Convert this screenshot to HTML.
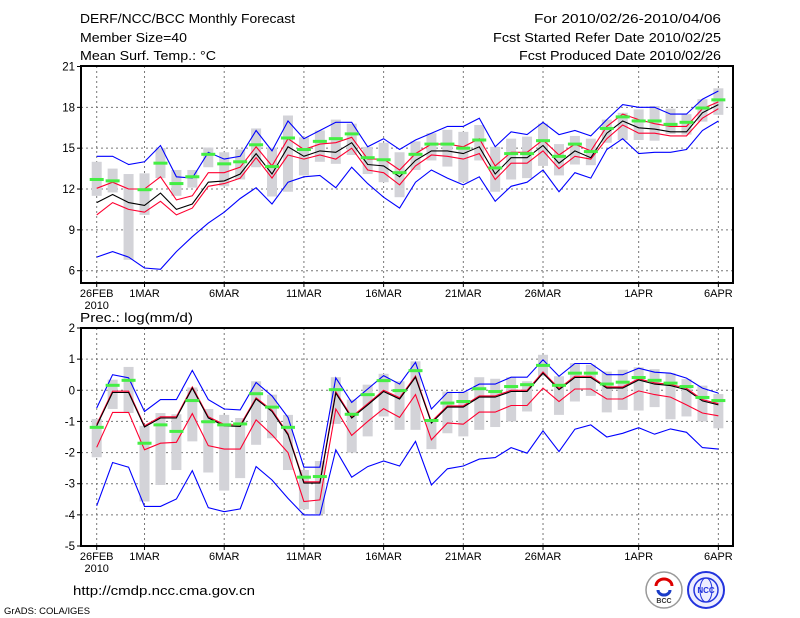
<!DOCTYPE html>
<html><head><meta charset="utf-8"><style>
html,body{margin:0;padding:0;background:#fff;}
svg{display:block;font-family:"Liberation Sans",sans-serif;}
</style></head><body>
<svg id="chart" width="800" height="618" viewBox="0 0 800 618" xmlns="http://www.w3.org/2000/svg">
<rect width="800" height="618" fill="#fff"/>
<g font-size="12.5" fill="#000">
<text x="80" y="23" textLength="215" lengthAdjust="spacingAndGlyphs">DERF/NCC/BCC Monthly Forecast</text>
<text x="80" y="42" textLength="107" lengthAdjust="spacingAndGlyphs">Member Size=40</text>
<text x="80" y="60" textLength="136" lengthAdjust="spacingAndGlyphs">Mean Surf. Temp.: °C</text>
<text x="534" y="23" textLength="187" lengthAdjust="spacingAndGlyphs">For 2010/02/26-2010/04/06</text>
<text x="493" y="42" textLength="228" lengthAdjust="spacingAndGlyphs">Fcst Started Refer Date 2010/02/25</text>
<text x="519" y="60" textLength="202" lengthAdjust="spacingAndGlyphs">Fcst Produced Date 2010/02/26</text>
<text x="80" y="322" textLength="113" lengthAdjust="spacingAndGlyphs">Prec.: log(mm/d)</text>
<text x="73" y="595" textLength="182" lengthAdjust="spacingAndGlyphs">http://cmdp.ncc.cma.gov.cn</text>
<text x="4" y="614" font-size="9" textLength="86" lengthAdjust="spacingAndGlyphs">GrADS: COLA/IGES</text>
</g>
<g>
<circle cx="664" cy="590" r="18" fill="#fff" stroke="#999" stroke-width="1.5"/>
<path d="M656 586 a8 7 0 1 1 16 0" fill="none" stroke="#d00" stroke-width="3"/>
<path d="M658 590 a6 5 0 0 0 12 0" fill="none" stroke="#1a3cc8" stroke-width="3"/>
<text x="664" y="603" font-size="7" text-anchor="middle" font-weight="bold" fill="#333">BCC</text>
</g>
<g>
<circle cx="706" cy="590" r="18" fill="#eef" stroke="#2233dd" stroke-width="2"/>
<circle cx="706" cy="590" r="12" fill="none" stroke="#2233dd" stroke-width="1.5"/>
<ellipse cx="706" cy="590" rx="6" ry="12" fill="none" stroke="#2233dd" stroke-width="1"/>
<text x="706" y="593" font-size="8" text-anchor="middle" font-weight="bold" fill="#2233dd">NCC</text>
</g>
<g id="plots"></g>
</svg>
<script>
// ---- data: temperature panel ----
const days = ["26FEB","27FEB","28FEB","1MAR","2MAR","3MAR","4MAR","5MAR","6MAR","7MAR","8MAR","9MAR","10MAR","11MAR","12MAR","13MAR","14MAR","15MAR","16MAR","17MAR","18MAR","19MAR","20MAR","21MAR","22MAR","23MAR","24MAR","25MAR","26MAR","27MAR","28MAR","29MAR","30MAR","31MAR","1APR","2APR","3APR","4APR","5APR","6APR"];
const xLabels = ["26FEB","1MAR","6MAR","11MAR","16MAR","21MAR","26MAR","1APR","6APR"];
const tTicks = [6,9,12,15,18,21];
const pTicks = [-5,-4,-3,-2,-1,0,1,2];
const tMax = [14.4,14.4,13.8,14.0,15.2,12.9,12.8,14.7,14.2,14.4,16.3,14.8,17.0,15.7,16.3,16.9,16.9,15.1,15.7,14.9,15.6,16.1,16.6,16.6,17.2,15.1,16.2,16.0,16.9,16.0,16.3,15.9,17.1,18.2,18.0,18.0,17.5,17.5,18.6,19.2];
const tMin = [7.0,7.4,7.0,6.2,6.1,7.4,8.5,9.5,10.3,11.3,12.1,10.9,12.5,12.9,13.0,12.1,13.6,12.4,11.4,10.6,12.5,13.4,12.8,12.3,12.9,11.1,12.2,12.5,13.4,11.8,13.2,12.8,14.9,15.7,14.6,14.7,14.7,14.9,16.3,17.0];
const tMean = [11.0,11.6,11.0,10.8,11.7,10.5,10.9,12.5,12.6,13.1,14.6,13.1,15.1,14.4,14.8,14.7,15.4,13.8,13.7,12.9,14.1,14.8,14.8,14.6,15.1,13.1,14.3,14.3,15.2,13.9,14.8,14.3,16.1,17.0,16.5,16.4,16.2,16.2,17.6,18.2];
const tUp = [12.05,12.5,12.0,12.0,12.9,11.2,11.5,13.2,13.2,13.6,15.1,13.7,15.7,14.9,15.3,15.4,15.8,14.2,14.2,13.4,14.6,15.3,15.3,15.1,15.7,13.7,14.7,14.7,15.6,14.5,15.3,14.8,16.6,17.5,17.1,16.8,16.6,16.6,17.9,18.4];
const tLow = [10.1,11.0,10.5,10.3,11.1,10.1,10.6,12.2,12.4,12.8,14.3,12.8,14.5,14.2,14.5,14.2,15.0,13.4,13.2,12.3,13.7,14.5,14.4,14.2,14.6,12.7,13.9,13.9,14.8,13.5,14.4,14.2,15.7,16.7,16.1,16.1,15.9,15.9,17.2,17.9];
const tObs = [12.7,12.6,null,11.95,13.9,12.4,12.9,14.55,13.85,14.0,15.25,13.65,15.75,14.9,15.5,15.7,16.05,14.3,14.15,13.2,14.55,15.3,15.3,15.0,15.6,13.55,14.6,14.6,15.55,14.4,15.3,14.75,16.45,17.3,17.0,17.0,16.75,16.9,17.95,18.55];
const tBarTop = [14.0,13.5,13.1,13.15,15.0,13.4,13.4,15.05,14.7,14.9,16.45,15.05,17.4,15.8,16.3,17.1,16.8,15.1,15.4,14.7,15.5,16.1,16.35,16.2,16.7,15.1,15.7,15.85,16.8,15.3,15.9,15.7,17.1,17.6,17.85,18.1,17.9,17.5,18.6,19.4];
const tBarBot = [11.5,11.75,6.8,10.1,12.8,11.5,12.1,13.6,12.2,12.7,13.6,11.45,11.8,13.0,14.0,13.85,14.5,13.1,12.5,11.4,13.4,14.1,13.65,12.5,14.1,11.8,12.7,12.8,13.7,13.0,13.8,13.75,15.4,15.6,15.6,15.55,16.05,16.0,16.95,17.45];
// ---- data: precipitation panel ----
const pMax = [-0.57,0.5,0.4,-0.68,-0.3,-0.3,0.64,-0.3,-0.6,-0.63,0.25,-0.18,-0.87,-2.47,-2.47,0.4,-0.39,0.04,0.47,0.2,0.9,-0.6,-0.07,-0.07,0.2,0.2,0.42,0.42,0.98,0.45,0.86,0.86,0.5,0.5,0.71,0.58,0.55,0.39,0.07,-0.09];
const pMin = [-3.71,-2.32,-2.47,-3.73,-3.73,-3.49,-2.58,-3.77,-3.9,-3.81,-2.45,-2.88,-3.47,-4.0,-4.0,-1.91,-2.79,-2.45,-2.27,-2.43,-1.64,-3.04,-2.52,-2.43,-2.21,-2.16,-1.84,-2.02,-1.3,-1.97,-1.25,-1.11,-1.5,-1.38,-1.2,-1.41,-1.24,-1.35,-1.84,-1.89];
const pMean = [-1.14,-0.07,-0.07,-1.18,-0.89,-0.89,0.07,-0.89,-1.14,-1.16,-0.28,-0.68,-1.43,-2.98,-2.98,-0.09,-0.89,-0.47,-0.04,-0.28,0.42,-1.05,-0.54,-0.54,-0.22,-0.22,-0.04,-0.04,0.55,0.02,0.41,0.41,0.07,0.07,0.33,0.2,0.15,0.02,-0.34,-0.47];
const pUp = [-1.1,-0.03,-0.03,-1.14,-0.85,-0.85,0.11,-0.85,-1.1,-1.12,-0.24,-0.64,-1.39,-2.94,-2.94,-0.05,-0.85,-0.43,0.0,-0.24,0.46,-1.01,-0.5,-0.5,-0.18,-0.18,0.0,0.0,0.59,0.06,0.45,0.45,0.11,0.11,0.37,0.24,0.19,0.06,-0.3,-0.43];
const pLow = [-1.83,-0.71,-0.71,-1.91,-1.7,-1.67,-0.75,-1.78,-1.89,-1.89,-0.95,-1.43,-2.0,-3.57,-3.52,-0.6,-1.45,-1.0,-0.59,-0.87,-0.14,-1.59,-1.05,-1.09,-0.7,-0.7,-0.49,-0.49,0.07,-0.36,0.04,0.04,-0.28,-0.28,-0.02,-0.14,-0.22,-0.47,-0.73,-0.82];
const pObs = [-1.19,0.16,0.32,-1.7,-1.11,-1.32,-0.33,-1.01,-1.11,-1.08,-0.11,-0.54,-1.19,-2.79,-2.77,0.02,-0.77,-0.14,0.31,-0.01,0.63,-0.97,-0.41,-0.36,0.05,-0.04,0.12,0.18,0.8,0.16,0.55,0.55,0.2,0.26,0.41,0.32,0.23,0.12,-0.23,-0.33];
const pBarTop = [-0.92,0.34,0.75,-1.14,-0.73,-0.77,0.09,-0.6,-0.79,-0.89,0.29,-0.14,-0.79,-2.56,-2.27,0.42,-0.3,0.18,0.53,0.29,0.93,-0.93,-0.04,-0.04,0.42,0.37,0.42,0.29,1.14,0.45,0.87,0.82,0.6,0.66,0.74,0.68,0.55,0.36,0.15,-0.12];
const pBarBot = [-2.15,-0.6,-0.73,-3.57,-3.04,-2.56,-1.64,-2.64,-3.22,-2.82,-1.75,-1.54,-2.56,-3.82,-3.97,-1.08,-2.0,-1.48,-0.84,-1.27,-1.27,-1.89,-1.38,-1.48,-1.27,-1.18,-1.0,-0.68,0.45,-0.79,-0.36,-0.18,-0.71,-0.63,-0.65,-0.54,-0.93,-0.84,-1.0,-1.22];

const NS = "http://www.w3.org/2000/svg";
const root = document.getElementById('plots');
const FL = 81, FR = 733, X0 = 96.7, DX = 15.94;
function xs(i){ return X0 + DX*i; }
function mk(tag, attrs, parent){
  const e = document.createElementNS(NS, tag);
  for (const k in attrs) e.setAttribute(k, attrs[k]);
  parent.appendChild(e); return e;
}
function panel(cfg){
  const g = mk('g', {}, root);
  
  
  const ys = v => cfg.yTop + (cfg.vTop - v) * (cfg.yBot - cfg.yTop) / (cfg.vTop - cfg.vBot);
  cfg.ticks.forEach(t => {
    const y = ys(t);
    if (y > cfg.frameTop + 1 && y < cfg.frameBot - 1) {
      const l = mk('line', {x1:FL, x2:FR, y1:y, y2:y, stroke:'#777', 'stroke-dasharray':'2,3', 'stroke-width':1}, g);
      
      
    }
    mk('line', {x1:FL-4, x2:FL, y1:y, y2:y, stroke:'#000'}, g);
    const tx = mk('text', {x:FL-6, y:y+4, 'font-size':11.5, 'text-anchor':'end'}, g);
    tx.textContent = t;
    
    
  });
  xLabels.forEach(lab => {
    const i = days.indexOf(lab); const x = xs(i);
    const l = mk('line', {x1:x, x2:x, y1:cfg.frameTop, y2:cfg.frameBot, stroke:'#777', 'stroke-dasharray':'2,3'}, g);
    
    
    mk('line', {x1:x, x2:x, y1:cfg.frameBot, y2:cfg.frameBot+4, stroke:'#000'}, g);
    const tx = mk('text', {x:x, y:cfg.frameBot+14, 'font-size':11, 'text-anchor':'middle'}, g);
    tx.textContent = lab;
    
    
  });
  const yr = mk('text', {x:xs(0), y:cfg.frameBot+26, 'font-size':11, 'text-anchor':'middle'}, g);
  yr.textContent = '2010';
  
  
  cfg.barTop.forEach((v, i) => {
    const y1 = ys(v), y2 = ys(cfg.barBot[i]);
    const r = mk('rect', {x:xs(i)-5, y:y1, width:10, height:Math.max(1,y2-y1), fill:'#d3d3d8'}, g);
    
    
  });
  const series = [[cfg.max,'#0000ff','max-line'],[cfg.min,'#0000ff','min-line'],[cfg.up,'#ff0030','upper-line'],[cfg.low,'#ff0030','lower-line'],[cfg.mean,'#000','mean-line']];
  series.forEach(([arr,col,nm]) => {
    const p = mk('polyline', {points: arr.map((v,i)=>xs(i).toFixed(1)+','+ys(v).toFixed(1)).join(' '), fill:'none', stroke:col, 'stroke-width':1.1}, g);
    
    
  });
  cfg.obs.forEach((v, i) => {
    if (v === null) return;
    const r = mk('rect', {x:xs(i)-7, y:ys(v)-1.5, width:14, height:3, fill:'#44ee44'}, g);
    
    
  });
  const fr = mk('rect', {x:FL, y:cfg.frameTop, width:FR-FL, height:cfg.frameBot-cfg.frameTop, fill:'none', stroke:'#000', 'stroke-width':2}, g);
  
  
}
panel({name:'temperature-panel', ticks:tTicks, vTop:21, vBot:6, yTop:66.5, yBot:270.7, frameTop:66, frameBot:283,
  max:tMax, min:tMin, mean:tMean, up:tUp, low:tLow, obs:tObs, barTop:tBarTop, barBot:tBarBot});
panel({name:'precipitation-panel', ticks:pTicks, vTop:2, vBot:-5, yTop:328, yBot:546, frameTop:328, frameBot:546,
  max:pMax, min:pMin, mean:pMean, up:pUp, low:pLow, obs:pObs, barTop:pBarTop, barBot:pBarBot});
</script>
</body></html>
